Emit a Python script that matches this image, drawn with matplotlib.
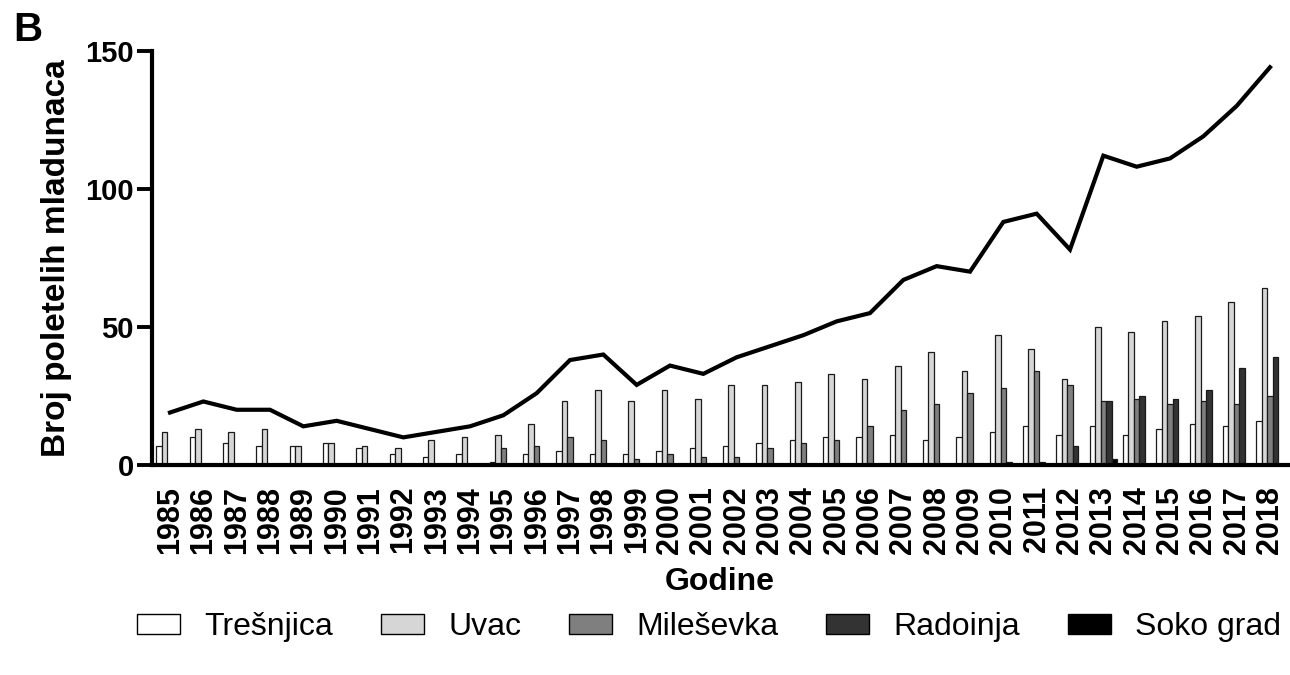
import numpy as np
import matplotlib
matplotlib.use("Agg")
import matplotlib.pyplot as plt
from matplotlib.patches import Patch

plt.rcParams['font.family'] = ['Liberation Sans', 'DejaVu Sans']

# podaci ocitani sa slike
years = list(range(1985, 2019))
tresnjica = [7, 10, 8, 7, 7, 8, 6, 4, 3, 4, 1, 4, 5, 4, 4, 5, 6, 7, 8, 9, 10, 10,
             11, 9, 10, 12, 14, 11, 14, 11, 13, 15, 14, 16]
uvac = [12, 13, 12, 13, 7, 8, 7, 6, 9, 10, 11, 15, 23, 27, 23, 27, 24, 29, 29, 30, 33, 31,
        36, 41, 34, 47, 42, 31, 50, 48, 52, 54, 59, 64]
milesevka = [0, 0, 0, 0, 0, 0, 0, 0, 0, 0, 6, 7, 10, 9, 2, 4, 3, 3, 6, 8, 9, 14,
             20, 22, 26, 28, 34, 29, 23, 24, 22, 23, 22, 25]
radoinja = [0] * 25 + [1, 1, 7, 23, 25, 24, 27, 35, 39]
soko_grad = [0] * 28 + [2, 0, 0, 0, 0, 0]
ukupno = [19, 23, 20, 20, 14, 16, 13, 10, 12, 14, 18, 26, 38, 40, 29, 36, 33, 39, 43, 47, 52, 55,
          67, 72, 70, 88, 91, 78, 112, 108, 111, 119, 130, 144]

series = [
    ("Trešnjica", tresnjica, "#ffffff"),
    ("Uvac", uvac, "#d6d6d6"),
    ("Mileševka", milesevka, "#7f7f7f"),
    ("Radoinja", radoinja, "#333333"),
    ("Soko grad", soko_grad, "#000000"),
]

fig = plt.figure(figsize=(12.9, 6.75), dpi=100)
ax = fig.add_axes([152 / 1290, 1 - 465 / 675, (1288 - 152) / 1290, (465 - 50.7) / 675])

x = np.arange(len(years))
w = 0.165
for k, (name, vals, col) in enumerate(series):
    ax.bar(x + (k - 2) * w, vals, width=w, color=col, edgecolor="#1a1a1a", linewidth=0.9,
           label=name, zorder=2)

# ukupan broj
ax.plot(x, ukupno, color="black", linewidth=3, zorder=3, solid_joinstyle="miter")

ax.set_xlim(-0.54, 33.54)
ax.set_ylim(0, 150)
ax.set_yticks([0, 50, 100, 150])
ax.set_xticks(x)
ax.set_xticklabels([str(y) for y in years], rotation=90, fontsize=22, fontweight="bold")
ax.tick_params(axis="x", length=0, pad=15)
ax.tick_params(axis="y", length=11, width=2.8, pad=2, labelsize=21)
for lab in ax.get_yticklabels():
    lab.set_fontweight("bold")

for side in ["top", "right"]:
    ax.spines[side].set_visible(False)
for side in ["left", "bottom"]:
    ax.spines[side].set_linewidth(3)

ax.set_ylabel("Broj poletelih mladunaca", fontsize=24, fontweight="bold")
ax.yaxis.set_label_coords(-0.0705, 0.5)
ax.set_xlabel("Godine", fontsize=23, fontweight="bold")
ax.xaxis.set_label_coords(0.5, -0.246)

fig.text(13 / 1290, 1 - 11 / 675, "B", fontsize=29, fontweight="bold", ha="left", va="top")

handles = [Patch(facecolor=col, edgecolor="black", linewidth=1.0, label=name)
           for name, _, col in series]
fig.legend(handles=handles, loc="center", bbox_to_anchor=(709 / 1290, 1 - 627 / 675),
           ncol=5, frameon=False, fontsize=23, handlelength=1.35, handleheight=0.6,
           handletextpad=0.75, columnspacing=1.5, borderpad=0)

fig.savefig("out.png", dpi=100)
